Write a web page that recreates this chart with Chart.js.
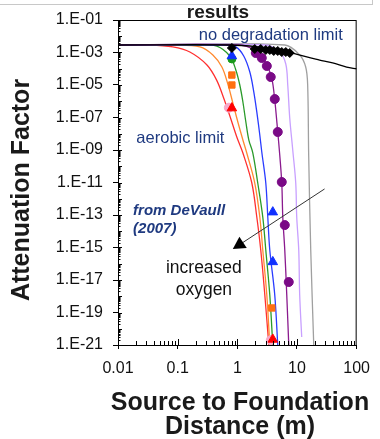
<!DOCTYPE html>
<html lang="en">
<head>
<meta charset="UTF-8">
<title>Attenuation Factor vs Source to Foundation Distance</title>
<script src="https://cdn.jsdelivr.net/npm/chart.js@4"></script>
<style>
  html, body { margin: 0; padding: 0; background: #fff; }
  #wrap { position: relative; width: 380px; height: 439px; overflow: hidden; }
  #slideEdge { position: absolute; left: 0; top: 0; width: 372px; height: 4px;
               border-bottom: 1px solid #c8c8c8; border-right: 1px solid #c8c8c8; }
</style>
</head>
<body>
<div id="wrap">
  <canvas id="chart" width="380" height="439"></canvas>
  <div id="slideEdge"></div>
</div>

<script>
// ---- data (distance in m, attenuation factor) ----
const redX    = [0.01, 0.034, 0.083, 0.16, 0.31, 0.45, 0.59, 0.75, 0.98, 1.24, 1.75, 2.12, 2.47, 2.89, 3.37];
const redY    = [2.9e-3, 2.9e-3, 2.2e-3, 1.07e-3, 1.7e-4, 2e-5, 1.6e-6, 1.24e-7, 6.3e-9, 6.5e-10, 9.3e-12, 7.5e-14, 7e-16, 1.2e-18, 1e-21];
const orangeX = [0.01, 0.09, 0.236, 0.389, 0.551, 0.693, 0.841, 1.02, 1.24, 1.44, 1.96, 2.38, 2.67, 3.12, 3.5];
const orangeY = [2.9e-3, 2.9e-3, 2.2e-3, 7e-4, 1.28e-4, 1.15e-5, 7.8e-7, 5.3e-8, 4.1e-9, 6.5e-10, 9.3e-12, 7.5e-14, 7e-16, 1.2e-18, 1e-21];
const greenX  = [0.01, 0.236, 0.454, 0.749, 0.944, 1.10, 1.24, 1.39, 1.56, 1.82, 2.20, 2.67, 3.0, 3.5, 3.93];
const greenY  = [2.9e-3, 2.9e-3, 2.5e-3, 6.1e-4, 8.4e-5, 1e-5, 9e-7, 5.3e-8, 4.1e-9, 6.5e-10, 9.3e-12, 7.5e-14, 7e-16, 1.2e-18, 1e-21];
const blueX   = [0.01, 0.618, 0.944, 1.28, 1.62, 1.89, 2.12, 2.38, 2.57, 3.0, 3.24, 3.5, 4.24, 4.76];
const blueY   = [2.9e-3, 2.9e-3, 2.2e-3, 6.1e-4, 6.3e-5, 3.7e-6, 2.2e-7, 8.4e-9, 7.5e-10, 9.3e-12, 7.5e-14, 7e-16, 1.2e-18, 1e-21];
const purpleX = [0.01, 1.10, 1.96, 2.57, 3.24, 3.78, 4.24, 4.76, 5.14, 5.56, 5.78, 6.24, 6.74, 7.28];
const purpleY = [2.9e-3, 2.9e-3, 1.43e-3, 5.3e-4, 1.28e-4, 2.7e-5, 1.2e-6, 1.28e-8, 4.9e-10, 9.3e-12, 7.5e-14, 7e-16, 1.2e-18, 1e-21];
const violetX = [0.01, 2.89, 5.14, 6.49, 7.0, 7.56, 8.49, 9.53, 9.90, 10.7, 11.1, 12.0];
const violetY = [2.9e-3, 2.9e-3, 1.07e-3, 1.96e-4, 1e-5, 9.3e-8, 1e-9, 9.3e-12, 7.5e-14, 7e-16, 1.2e-18, 3.1e-21];
const grayX   = [0.01, 6.24, 11.1, 14.0, 15.1, 15.7, 17.0, 19.1];
const grayY   = [2.9e-3, 2.9e-3, 7e-4, 1.28e-4, 1e-5, 4.9e-10, 7e-16, 1e-21];
const blackX  = [0.01, 0.75, 2.38, 6.24, 8.49, 14.6, 24.0, 39.6, 68.0, 100];
const blackY  = [2.9e-3, 2.9e-3, 2.2e-3, 1.43e-3, 9.3e-4, 5.3e-4, 3.45e-4, 2.26e-4, 1.28e-4, 9.7e-5];

// markers
const diamondX = [0.81, 1.96, 2.47, 3.0, 3.5, 4.08, 4.76, 5.56, 6.49, 7.56];
const diamondY = [1.9e-3, 1.64e-3, 1.64e-3, 1.43e-3, 1.43e-3, 1.24e-3, 1.24e-3, 1.07e-3, 1.07e-3, 9.3e-4];
const purpleDotX = [2.04, 2.57, 3.12, 3.63, 4.24, 4.76, 5.56, 6.24, 7.28];
const purpleDotY = [9.3e-4, 4.6e-4, 1.48e-4, 3.1e-5, 1.37e-6, 1.28e-8, 1.07e-11, 2.4e-14, 7.5e-18];
const blueTriX = [0.81, 3.93, 3.93];
const blueTriY = [6.1e-4, 1.5e-13, 1.3e-16];
const greenDotX = [0.81];
const greenDotY = [4e-4];
const orangeSqX = [0.81, 0.81, 3.78];
const orangeSqY = [4.1e-5, 1e-5, 1.9e-19];
const redTriX = [0.81, 3.93];
const redTriY = [3.8e-7, 2.2e-21];
const pinkDotX = [0.72, 3.64];
const pinkDotY = [4e-7, 2e-21];

const xTicks = [0.01, 0.1, 1, 10, 100];
const xTickLabels = ['0.01', '0.1', '1', '10', '100'];
const yTicks = [1e-21, 1e-19, 1e-17, 1e-15, 1e-13, 1e-11, 1e-9, 1e-7, 1e-5, 1e-3, 1e-1];
const yTickLabels = ['1.E-21', '1.E-19', '1.E-17', '1.E-15', '1.E-13', '1.E-11', '1.E-09', '1.E-07', '1.E-05', '1.E-03', '1.E-01'];

const FONT = "'Liberation Sans', Arial, sans-serif";
const NAVY = '#1f3a80';

function pts(xs, ys) {
    return xs.map((x, i) => ({ x: x, y: ys[i] }));
}

function curve(xs, ys, color) {
    return { data: pts(xs, ys), showLine: true, borderColor: color, borderWidth: 1.3,
             pointRadius: 0, tension: 0.35, fill: false };
}

function marks(xs, ys, style, color, r) {
    return { data: pts(xs, ys), showLine: false, pointStyle: style, pointRadius: r,
             backgroundColor: color, borderColor: color, borderWidth: 1, clip: false };
}

// annotation anchors, in data units
const arrowFrom = { x: 29, y: 4e-12 };
const arrowTo = { x: 0.84, y: 8e-16 };

const decor = {
    id: 'decor',
    afterDraw(chart) {
        const ctx = chart.ctx;
        const a = chart.chartArea;
        const xs = chart.scales.x, ys = chart.scales.y;
        ctx.save();

        // frame
        ctx.strokeStyle = '#000';
        ctx.lineWidth = 1;
        ctx.strokeRect(a.left + 0.5, a.top + 0.5, a.right - a.left - 1, a.bottom - a.top);

        // y minor ticks (inside)
        ctx.beginPath();
        for (let e = -21; e <= -2; e++) {
            for (let k = 1; k <= 9; k++) {
                const py = Math.round(ys.getPixelForValue(k * Math.pow(10, e))) + 0.5;
                const len = k === 1 ? 4 : 2.5;
                ctx.moveTo(a.left, py);
                ctx.lineTo(a.left + len, py);
            }
        }
        // x minor ticks (inside)
        for (let e = -2; e <= 1; e++) {
            for (let k = 1; k <= 9; k++) {
                const px = Math.round(xs.getPixelForValue(k * Math.pow(10, e))) + 0.5;
                const len = k === 1 ? 6 : 4;
                ctx.moveTo(px, a.bottom);
                ctx.lineTo(px, a.bottom - len);
            }
        }
        ctx.stroke();

        // arrow
        const x0 = xs.getPixelForValue(arrowFrom.x), y0 = ys.getPixelForValue(arrowFrom.y);
        const x1 = xs.getPixelForValue(arrowTo.x), y1 = ys.getPixelForValue(arrowTo.y);
        const ang = Math.atan2(y1 - y0, x1 - x0);
        ctx.strokeStyle = '#333';
        ctx.beginPath();
        ctx.moveTo(x0, y0);
        ctx.lineTo(x1 - 10 * Math.cos(ang), y1 - 10 * Math.sin(ang));
        ctx.stroke();
        ctx.fillStyle = '#000';
        ctx.beginPath();
        ctx.moveTo(x1, y1);
        ctx.lineTo(x1 - 14 * Math.cos(ang - 0.5), y1 - 14 * Math.sin(ang - 0.5));
        ctx.lineTo(x1 - 14 * Math.cos(ang + 0.5), y1 - 14 * Math.sin(ang + 0.5));
        ctx.closePath();
        ctx.fill();

        // in-plot labels
        ctx.textBaseline = 'middle';
        ctx.textAlign = 'center';
        ctx.fillStyle = NAVY;
        ctx.font = '16.5px ' + FONT;
        ctx.fillText('no degradation limit', xs.getPixelForValue(3.64), ys.getPixelForValue(1.2e-2));
        ctx.fillText('aerobic limit', xs.getPixelForValue(0.111), ys.getPixelForValue(5.5e-9));
        ctx.textAlign = 'left';
        ctx.font = 'italic bold 15px ' + FONT;
        ctx.fillText('from DeVaull', xs.getPixelForValue(0.0179), ys.getPixelForValue(1.8e-13));
        ctx.fillText('(2007)', xs.getPixelForValue(0.0179), ys.getPixelForValue(1.4e-14));
        ctx.textAlign = 'center';
        ctx.fillStyle = '#111';
        ctx.font = '17.5px ' + FONT;
        ctx.fillText('increased', xs.getPixelForValue(0.275), ys.getPixelForValue(5.5e-17));
        ctx.fillText('oxygen', xs.getPixelForValue(0.275), ys.getPixelForValue(2.4e-18));

        // titles
        ctx.fillStyle = '#1a1a1a';
        ctx.font = 'bold 19px ' + FONT;
        ctx.textBaseline = 'alphabetic';
        ctx.fillText('results', 218, 18);
        ctx.textBaseline = 'middle';
        ctx.font = 'bold 25px ' + FONT;
        ctx.fillText('Source to Foundation', 240, 403);
        ctx.fillText('Distance (m)', 240, 427);
        ctx.translate(22, 190);
        ctx.rotate(-Math.PI / 2);
        ctx.fillText('Attenuation Factor', 0, 0);
        ctx.restore();
    }
};

new Chart(document.getElementById('chart'), {
    type: 'scatter',
    data: {
        datasets: [
            marks(diamondX, diamondY, 'rectRot', '#000', 4.5),
            marks(blueTriX, blueTriY, 'triangle', '#1030ff', 5.5),
            marks(greenDotX, greenDotY, 'circle', '#1a9a1a', 4),
            marks(orangeSqX, orangeSqY, 'rect', '#ff7010', 4.5),
            marks(redTriX, redTriY, 'triangle', '#ff0000', 5.5),
            marks(pinkDotX, pinkDotY, 'circle', '#f7a8c8', 4.5),
            marks(purpleDotX, purpleDotY, 'circle', '#7a0a86', 4.5),
            curve(blackX, blackY, '#000'),
            curve(purpleX, purpleY, '#8a1a8e'),
            curve(blueX, blueY, '#2a3cff'),
            curve(greenX, greenY, '#2a9a2a'),
            curve(orangeX, orangeY, '#ff8a30'),
            curve(redX, redY, '#ff3030'),
            curve(violetX, violetY, '#c8a0ff'),
            curve(grayX, grayY, '#a0a0a0')
        ]
    },
    options: {
        responsive: false,
        animation: false,
        devicePixelRatio: 1,
        layout: { padding: { left: 0, top: 20, right: 23, bottom: 0 } },
        plugins: { legend: { display: false }, tooltip: { enabled: false } },
        scales: {
            x: {
                type: 'logarithmic',
                min: 0.01, max: 100,
                afterBuildTicks: s => { s.ticks = xTicks.map(v => ({ value: v })); },
                afterFit: s => { s.height = 94; },
                ticks: { callback: (v, i) => xTickLabels[i], color: '#111', padding: 10,
                         maxRotation: 0, autoSkip: false, font: { family: FONT, size: 16 } },
                grid: { drawOnChartArea: false, tickLength: 4, color: '#000' },
                border: { color: '#000' }
            },
            y: {
                type: 'logarithmic',
                min: 1e-21, max: 1e-1,
                afterBuildTicks: s => { s.ticks = yTicks.map(v => ({ value: v })); },
                afterFit: s => { s.width = 118; },
                ticks: { callback: (v, i) => yTickLabels[i], color: '#111', padding: 10,
                         autoSkip: false, font: { family: FONT, size: 16 } },
                grid: { drawOnChartArea: false, tickLength: 5, color: '#000' },
                border: { color: '#000' }
            }
        }
    },
    plugins: [decor]
});
</script>
</body>
</html>
